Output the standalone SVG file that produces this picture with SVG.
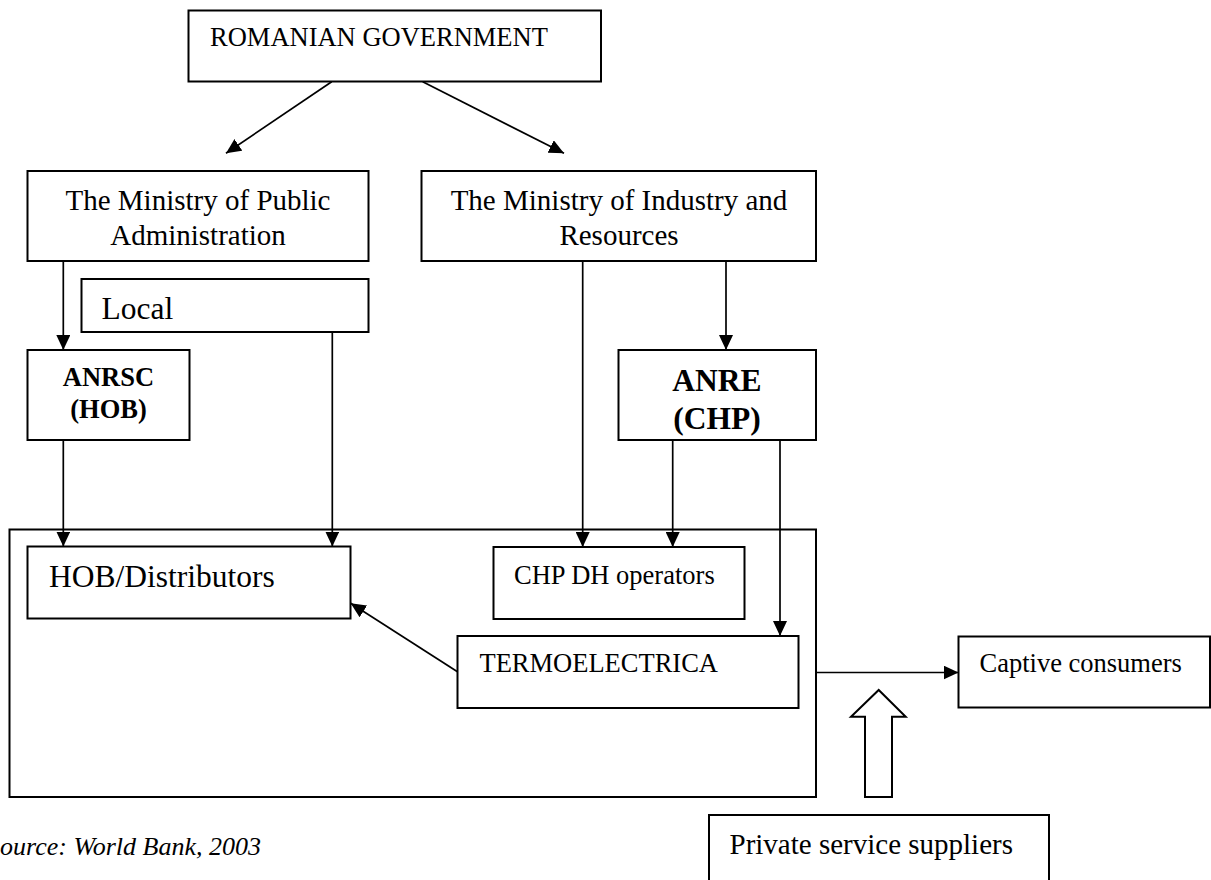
<svg xmlns="http://www.w3.org/2000/svg" width="1211" height="880" viewBox="0 0 1211 880">
<style>
.box{fill:#fff;stroke:#000;stroke-width:2}
.t{font-family:"Liberation Serif","Times New Roman",serif;fill:#000}
.c{stroke:#000;stroke-width:1.7;fill:none}
</style>
<defs>
<marker id="ah" markerUnits="userSpaceOnUse" markerWidth="16" markerHeight="14" refX="15" refY="7" orient="auto">
<path d="M0,0 L15,7 L0,14 z" fill="#000"/>
</marker>
</defs>
<rect width="1211" height="880" fill="#fff"/>
<g id="container"><rect class="box" x="9.5" y="529.5" width="806.5" height="267.5" fill="none" style="fill:none"/></g>
<g id="gov"><rect class="box" x="188.5" y="10.5" width="412.5" height="71"/><text class="t" x="210" y="45.5" font-size="26.5">ROMANIAN GOVERNMENT</text></g>
<g id="mpa"><rect class="box" x="27.5" y="171" width="341" height="90"/><text class="t" x="198" y="210" font-size="29" text-anchor="middle">The Ministry of Public</text><text class="t" x="198" y="244.5" font-size="29" text-anchor="middle">Administration</text></g>
<g id="mir"><rect class="box" x="421.5" y="171" width="394.5" height="90"/><text class="t" x="619" y="210" font-size="29" text-anchor="middle">The Ministry of Industry and</text><text class="t" x="619" y="245" font-size="29" text-anchor="middle">Resources</text></g>
<g id="local"><rect class="box" x="81.5" y="279" width="287" height="53"/><text class="t" x="101.5" y="319" font-size="31.5">Local</text></g>
<g id="anrsc"><rect class="box" x="27.5" y="350" width="162" height="90"/><text class="t" x="108.5" y="386" font-size="26.5" font-weight="bold" text-anchor="middle">ANRSC</text><text class="t" x="108.5" y="417.5" font-size="26.5" font-weight="bold" text-anchor="middle">(HOB)</text></g>
<g id="anre"><rect class="box" x="618.5" y="350" width="197.5" height="90"/><text class="t" x="717" y="390.5" font-size="31.5" font-weight="bold" text-anchor="middle">ANRE</text><text class="t" x="717" y="428.5" font-size="31.5" font-weight="bold" text-anchor="middle">(CHP)</text></g>
<g id="hob"><rect class="box" x="27.5" y="546.5" width="323" height="72"/><text class="t" x="49" y="587" font-size="31.5">HOB/Distributors</text></g>
<g id="chp"><rect class="box" x="493.5" y="547" width="251" height="72"/><text class="t" x="514" y="583.5" font-size="26.5">CHP DH operators</text></g>
<g id="termo"><rect class="box" x="457.5" y="636" width="341" height="72"/><text class="t" x="479.5" y="671.5" font-size="26.5">TERMOELECTRICA</text></g>
<g id="captive"><rect class="box" x="958.5" y="636.5" width="251.5" height="71"/><text class="t" x="979.5" y="671.5" font-size="26.5">Captive consumers</text></g>
<g id="private"><rect class="box" x="709" y="815" width="340" height="80"/><text class="t" x="729.5" y="853.5" font-size="29">Private service suppliers</text></g>
<g id="source"><text class="t" x="0" y="854.5" font-size="26" font-style="italic">ource: World Bank, 2003</text></g>
<g id="connectors">
<line class="c" x1="331.7" y1="81.7" x2="226" y2="153.3" marker-end="url(#ah)"/>
<line class="c" x1="422.7" y1="81.7" x2="564" y2="153.3" marker-end="url(#ah)"/>
<line class="c" x1="63.3" y1="261" x2="63.3" y2="350" marker-end="url(#ah)"/>
<line class="c" x1="332.3" y1="332" x2="332.3" y2="546.5" marker-end="url(#ah)"/>
<line class="c" x1="63.3" y1="440" x2="63.3" y2="546.5" marker-end="url(#ah)"/>
<line class="c" x1="582.7" y1="261" x2="582.7" y2="547" marker-end="url(#ah)"/>
<line class="c" x1="726" y1="261" x2="726" y2="350" marker-end="url(#ah)"/>
<line class="c" x1="672.7" y1="440" x2="672.7" y2="547" marker-end="url(#ah)"/>
<line class="c" x1="780" y1="440" x2="780" y2="636" marker-end="url(#ah)"/>
<line class="c" x1="457.5" y1="671.7" x2="350.7" y2="603.3" marker-end="url(#ah)"/>
<line class="c" x1="816" y1="672.5" x2="958.5" y2="672.5" marker-end="url(#ah)"/>
<polygon points="865,797 865,716.7 851,716.7 878.7,690 905.7,716.7 892,716.7 892,797" fill="#fff" stroke="#000" stroke-width="2"/>
</g>
</svg>
